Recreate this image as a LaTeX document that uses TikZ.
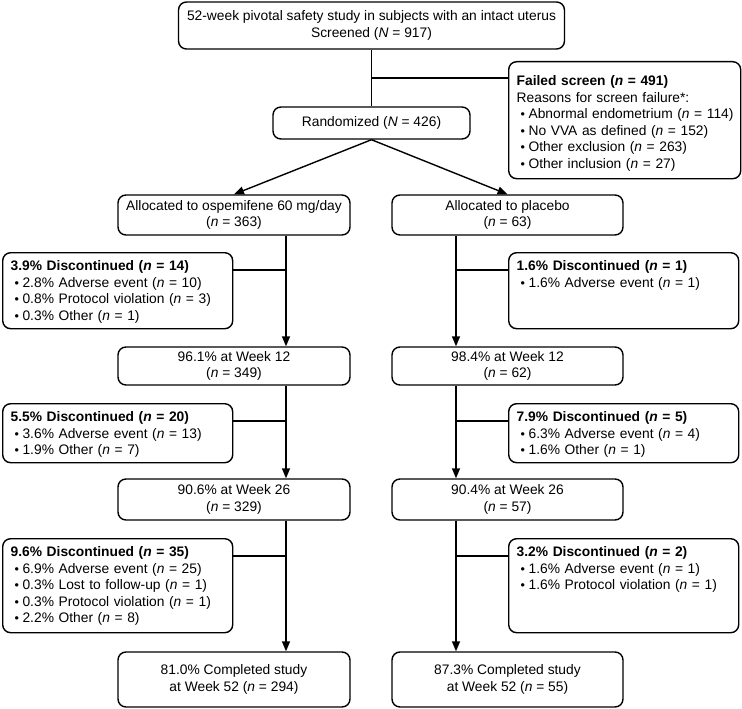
\documentclass[tikz,border=0pt]{standalone}
\usepackage{fontspec}
\setmainfont{Liberation Sans}
\usetikzlibrary{arrows.meta}
\newcommand{\bul}{\hspace*{4pt}{\fontsize{12.5}{12}\selectfont\textbullet}\hspace{3.5pt}}

\begin{document}
\begin{tikzpicture}[x=1pt, y=-1pt, line width=1.4pt,
        font=\fontsize{13.8}{16.5}\selectfont,
        box/.style={draw, rounded corners=8pt, align=center, minimum width=232pt, minimum height=40pt, inner sep=2pt},
        note/.style={draw, rounded corners=8pt, align=left, anchor=north west, text width=214pt,
            inner xsep=8pt, inner ysep=5pt, text height=13pt, text depth=#1},
        arr/.style={-{Triangle[length=10pt, width=8pt]}}]
    \useasboundingbox (0,0) rectangle (742,709);

    % screening
    \node [box, minimum width=386pt, minimum height=47pt] (screen) at (371.5,25.5) {52-week pivotal safety study in subjects with an intact uterus\\Screened (\textit{N} = 917)};
    \node [box, minimum width=197pt, minimum height=32pt] (rand) at (371.5,123) {Randomized (\textit{N} = 426)};
    \node [note=88pt, text width=216pt, inner xsep=8pt, text height=19pt] (fail) at (508,61) {\textbf{Failed screen (\textit{n} = 491)}\\Reasons for screen failure*:\\\mbox{\bul Abnormal endometrium (\textit{n} = 114)}\\\bul No VVA as defined (\textit{n} = 152)\\\bul Other exclusion (\textit{n} = 263)\\\bul Other inclusion (\textit{n} = 27)};
    \draw (screen) -- (rand);
    \draw ([yshift=-17pt]fail.north west) -- ([yshift=-17pt]fail.north west -| screen.south);

    % ospemifene arm
    \node [box] (allocL) at (234,215) {Allocated to ospemifene 60 mg/day\\(\textit{n} = 363)};
    \node [box, minimum height=38pt] (w12L) at (234,366) {96.1\% at Week 12\\(\textit{n} = 349)};
    \node [box, minimum height=41pt] (w26L) at (234,499.5) {90.6\% at Week 26\\(\textit{n} = 329)};
    \node [box, minimum height=55pt] (endL) at (234,679.5) {81.0\% Completed study\\at Week 52 (\textit{n} = 294)};
    \node [note=53pt] (d1L) at (2,252) {\textbf{3.9\% Discontinued (\textit{n} = 14)}\\\bul 2.8\% Adverse event (\textit{n} = 10)\\\bul 0.8\% Protocol violation (\textit{n} = 3)\\\bul 0.3\% Other (\textit{n} = 1)};
    \node [note=36pt] (d2L) at (2,403) {\textbf{5.5\% Discontinued (\textit{n} = 20)}\\\bul 3.6\% Adverse event (\textit{n} = 13)\\\bul 1.9\% Other (\textit{n} = 7)};
    \node [note=71pt] (d3L) at (2,538) {\textbf{9.6\% Discontinued (\textit{n} = 35)}\\\bul 6.9\% Adverse event (\textit{n} = 25)\\\bul 0.3\% Lost to follow-up (\textit{n} = 1)\\\bul 0.3\% Protocol violation (\textit{n} = 1)\\\bul 2.2\% Other (\textit{n} = 8)};

    % placebo arm
    \node [box, minimum width=231pt] (allocR) at (507.5,215) {Allocated to placebo\\(\textit{n} = 63)};
    \node [box, minimum width=231pt, minimum height=38pt] (w12R) at (507.5,366) {98.4\% at Week 12\\(\textit{n} = 62)};
    \node [box, minimum width=231pt, minimum height=41pt] (w26R) at (507.5,499.5) {90.4\% at Week 26\\(\textit{n} = 57)};
    \node [box, minimum width=231pt, minimum height=55pt] (endR) at (507.5,679.5) {87.3\% Completed study\\at Week 52 (\textit{n} = 55)};
    \node [note=53pt] (d1R) at (508,252) {\textbf{1.6\% Discontinued (\textit{n} = 1)}\\\bul 1.6\% Adverse event (\textit{n} = 1)};
    \node [note=36pt] (d2R) at (508,403) {\textbf{7.9\% Discontinued (\textit{n} = 5)}\\\bul 6.3\% Adverse event (\textit{n} = 4)\\\bul 1.6\% Other (\textit{n} = 1)};
    \node [note=71pt] (d3R) at (508,538) {\textbf{3.2\% Discontinued (\textit{n} = 2)}\\\bul 1.6\% Adverse event (\textit{n} = 1)\\\bul 1.6\% Protocol violation (\textit{n} = 1)};

    \draw [arr] (rand.south) -- (allocL.north);
    \draw [arr] (rand.south) -- (allocR.north);

    % trunks and side branches
    \draw [arr] ([xshift=52pt]allocL.south) coordinate (tL) -- ([xshift=52pt]w12L.north);
    \draw [arr] ([xshift=52pt]w12L.south) -- ([xshift=52pt]w26L.north);
    \draw [arr] ([xshift=52pt]w26L.south) -- ([xshift=52pt]endL.north);
    \draw [arr] ([xshift=-51.5pt]allocR.south) coordinate (tR) -- ([xshift=-51.5pt]w12R.north);
    \draw [arr] ([xshift=-51.5pt]w12R.south) -- ([xshift=-51.5pt]w26R.north);
    \draw [arr] ([xshift=-51.5pt]w26R.south) -- ([xshift=-51.5pt]endR.north);
    \foreach \d in {d1L, d2L, d3L}
        \draw ([yshift=-18pt]\d.north east) -- ([yshift=-18pt]\d.north east -| tL);
    \foreach \d in {d1R, d2R, d3R}
        \draw ([yshift=-18pt]\d.north west) -- ([yshift=-18pt]\d.north west -| tR);
\end{tikzpicture}
\end{document}
